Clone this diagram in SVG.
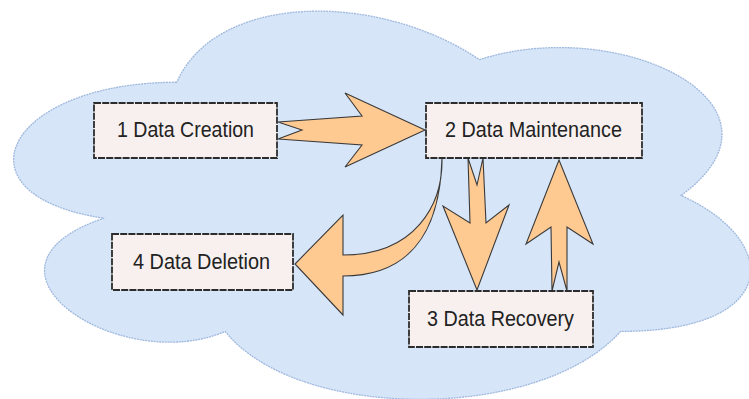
<svg xmlns="http://www.w3.org/2000/svg" width="749" height="399" viewBox="0 0 749 399">
  <style>
    .cloud { fill: #d6e6f8; stroke: #9fb8de; stroke-width: 1.3; stroke-dasharray: 2 0.8; }
    .box { fill: #f7f0ee; stroke: #2c2c2c; stroke-width: 1.8; stroke-dasharray: 7 1.2; }
    .label { font-family: "Liberation Sans", Arial, Helvetica, sans-serif; font-size: 22px; fill: #222222; text-anchor: middle; }
    .flow { fill: #ffc992; stroke: #3a3a3a; stroke-width: 1.1; stroke-linejoin: miter; }
  </style>

  <!-- background cloud -->
  <path class="cloud" d="M176.75,82.25
    C5,82.25 -50,195.5 104.1,218.2
    C-45,268 120.3,376.7 225.2,331.4
    C297.8,422 539.9,422 620.6,331.4
    C782,331.4 782,240.8 681.1,195.5
    C805,104.9 620.6,14.3 479.4,59.6
    C378.5,-8.35 217.1,-8.35 176.75,82.25 Z"/>

  <!-- connectors -->
  <g id="connectors">
    <!-- creation to maintenance -->
    <path class="flow" d="M278,122 L362,116 L345,93 L425,130 L345,167 L362,145 L278,139 L302,130 Z"/>
    <!-- maintenance to recovery -->
    <path class="flow" d="M468,158 L470,223 L443,206 L477,290 L509,205 L486,223 L483,158 L477,185 Z"/>
    <!-- recovery to maintenance -->
    <path class="flow" d="M552,291 L551,227 L526,244 L559,160 L593,244 L567,227 L567,291 L559,262 Z"/>
    <!-- maintenance to deletion (curved) -->
    <path class="flow" d="M442,158 C443,205 415,255 343,255 L343,215 L295,264 L343,315 L343,276 C405,276 440,238 442,158 Z"/>
  </g>

  <g id="node-creation">
    <rect class="box" x="94" y="103" width="183" height="55"/>
    <text class="label" x="185.5" y="137" textLength="137" lengthAdjust="spacingAndGlyphs">1 Data Creation</text>
  </g>

  <g id="node-maintenance">
    <rect class="box" x="426" y="103" width="216" height="55"/>
    <text class="label" x="533.5" y="137" textLength="177" lengthAdjust="spacingAndGlyphs">2 Data Maintenance</text>
  </g>

  <g id="node-recovery">
    <rect class="box" x="409" y="291" width="184" height="56"/>
    <text class="label" x="500.5" y="326" textLength="147" lengthAdjust="spacingAndGlyphs">3 Data Recovery</text>
  </g>

  <g id="node-deletion">
    <rect class="box" x="112" y="234" width="181" height="56"/>
    <text class="label" x="201.5" y="269" textLength="137" lengthAdjust="spacingAndGlyphs">4 Data Deletion</text>
  </g>
</svg>
